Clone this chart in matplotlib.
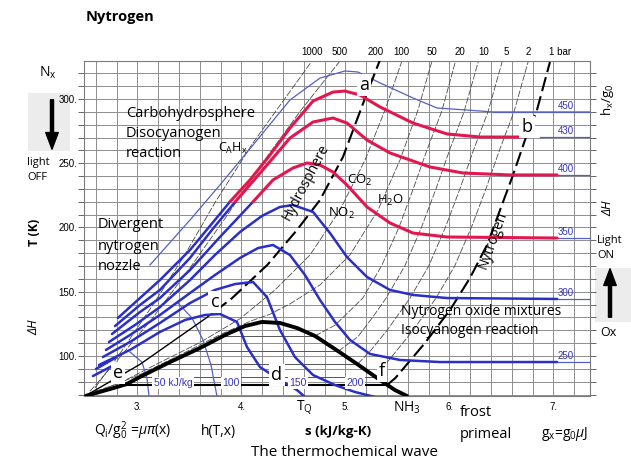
import matplotlib.pyplot as plt
from matplotlib.patches import FancyArrowPatch, Rectangle
from matplotlib.ticker import MultipleLocator

plt.rcParams["font.family"] = ["Open Sans", "DejaVu Sans"]
plt.rcParams["mathtext.fontset"] = "custom"
plt.rcParams["mathtext.rm"] = "Open Sans"
plt.rcParams["mathtext.it"] = "Open Sans:italic"
plt.rcParams["mathtext.bf"] = "Open Sans:bold"

RED = "#e3174f"
BLUE = "#2a2fc8"
THIN_BLUE = "#5560c4"
LABEL_BLUE = "#3535b5"
GRID = "#8e8e8e"

# saturation dome
dome_s = [2.505, 2.736, 2.899, 3.024, 3.313, 3.601, 3.841, 4.034, 4.197, 4.370, 4.534, 4.707, 4.899, 5.111, 5.332, 5.476, 5.591]
dome_t = [69.0, 74.3, 78.2, 83.7, 95.3, 106.2, 116.3, 123.3, 126.5, 125.7, 121.8, 115.6, 105.4, 93.8, 81.3, 73.5, 68.9]

# two-phase plateaus of the 1, 2, 5, 10, 20 bar isobars
sat_t = [77.4, 83.6, 94.0, 103.7, 115.6]
sat_s_liq = [2.87, 3.02, 3.28, 3.54, 3.83]
sat_s_vap = [5.40, 5.30, 5.12, 4.93, 4.707]

# isobars (bar)
bar1_s = [5.40, 5.48, 5.764, 6.005, 6.197, 6.361, 6.486, 6.611, 6.726, 6.841, 6.966]
bar1_t = [77.4, 82.9, 110.1, 135.8, 160.7, 186.4, 213.6, 240.9, 268.1, 291.4, 328.8]
bar2_s = [5.30, 5.40, 5.65, 5.87, 6.05, 6.21, 6.35, 6.48, 6.62, 6.76]
bar2_t = [83.6, 95, 120, 145, 170, 200, 230, 260, 290, 330]
bar5_s = [5.12, 5.25, 5.40, 5.62, 5.80, 5.96, 6.10, 6.23, 6.37, 6.51]
bar5_t = [94, 105, 120, 145, 170, 200, 230, 260, 290, 330]
bar10_s = [4.93, 5.12, 5.26, 5.39, 5.57, 5.73, 5.87, 6.00, 6.14, 6.28]
bar10_t = [103.7, 115, 130, 145, 170, 200, 230, 260, 290, 330]
bar20_s = [4.707, 4.90, 5.04, 5.166, 5.346, 5.514, 5.651, 5.782, 5.924, 6.06]
bar20_t = [115.6, 124, 135, 145, 170, 200, 230, 260, 290, 330]
bar50_s = [2.64, 3.024, 3.409, 3.793, 4.082, 4.274, 4.466, 4.755, 5.043, 5.313, 5.524, 5.697, 5.832]
bar50_t = [73.0, 85.5, 100.8, 116.5, 127.0, 132.5, 140.5, 155.3, 178.6, 213.6, 252.5, 291.4, 329.6]
bar100_s = [2.52, 2.832, 3.18, 3.601, 3.986, 4.322, 4.659, 4.947, 5.188, 5.380, 5.543]
bar100_t = [70.5, 79.0, 93.5, 110.5, 129.0, 151.4, 178.6, 213.6, 252.5, 291.4, 329.6]
bar200_liq_s = [2.543, 3.024, 3.668, 3.745]
bar200_liq_t = [71.0, 93.5, 130.0, 134.8]
bar200_s = [3.745, 3.909, 4.25, 4.534, 4.755, 4.976, 5.207, 5.332]
bar200_t = [134.8, 145.0, 171.0, 198.1, 221.4, 254.9, 304.7, 330.4]
bar500_s = [2.543, 2.80, 3.15, 3.50, 3.85, 4.20, 4.56, 4.947]
bar500_t = [72.5, 96.0, 130.0, 168.0, 208.0, 250.0, 290.0, 329.6]
bar1000_s = [2.59, 2.85, 3.15, 3.45, 3.75, 4.11, 4.678]
bar1000_t = [75.0, 104.0, 140.0, 178.0, 220.0, 265.8, 329.6]

pressure_labels = ["1000", "500", "200", "100", "50", "20", "10", "5", "2", "1 bar"]
pressure_label_s = [4.68, 4.94, 5.29, 5.54, 5.83, 6.10, 6.33, 6.55, 6.76, 7.06]

# isenthalps, kJ/kg (blue rise through the liquid bundle, red above 220 K)
h430_rise_s = [2.812, 3.024, 3.216, 3.505, 3.697, 3.889]
h430_rise_t = [129.6, 145.1, 159.1, 182.5, 201.2, 220.0]
h430_s = [3.889, 4.082, 4.274, 4.466, 4.688, 4.880, 4.995, 5.139, 5.332, 5.649, 5.976, 6.293, 6.678]
h430_t = [220.0, 237.0, 256.4, 277.4, 298.4, 305.4, 306.2, 303.1, 293.8, 281.3, 272.8, 270.4, 270.4]

h400_rise_s = [2.784, 3.024, 3.216, 3.505, 3.716, 3.94]
h400_rise_t = [123.3, 139.7, 151.4, 176.3, 198.1, 220.0]
h400_s = [3.94, 4.245, 4.466, 4.688, 4.880, 5.014, 5.207, 5.428, 5.812, 6.130, 6.582, 7.034]
h400_t = [220.0, 248.6, 269.6, 282.1, 285.2, 281.3, 268.1, 258.0, 247.1, 242.4, 240.9, 240.9]

h350_rise_s = [2.755, 3.024, 3.216, 3.505, 3.793, 4.111]
h350_rise_t = [117.1, 134.2, 145.1, 166.9, 192.6, 220.0]
h350_s = [4.111, 4.303, 4.495, 4.630, 4.755, 4.880, 5.014, 5.207, 5.428, 5.649, 5.976, 7.034]
h350_t = [220.0, 237.0, 246.3, 250.2, 248.6, 243.2, 233.1, 216.0, 203.5, 195.7, 192.6, 191.8]

h300_s = [2.726, 2.976, 3.216, 3.505, 3.745, 3.986, 4.197, 4.370, 4.495, 4.688, 4.851, 5.014, 5.207, 5.428, 5.649, 5.976, 7.034]
h300_t = [110.9, 124.1, 138.1, 159.1, 178.6, 196.5, 209.0, 216.0, 217.5, 212.1, 195.7, 177.0, 161.5, 151.4, 147.5, 145.1, 144.4]

h250_s = [2.697, 2.928, 3.216, 3.505, 3.745, 3.986, 4.159, 4.303, 4.466, 4.611, 4.755, 4.899, 5.043, 5.236, 5.524, 5.909, 7.034]
h250_t = [104.7, 116.3, 131.9, 149.0, 163.0, 176.3, 184.0, 186.4, 178.6, 163.0, 143.6, 126.5, 112.5, 101.6, 96.9, 95.3, 95.3]

h200_s = [2.668, 2.928, 3.216, 3.505, 3.745, 3.938, 4.111, 4.245, 4.370, 4.514, 4.688, 4.899, 5.091, 5.284]
h200_t = [99.2, 110.9, 125.7, 141.2, 151.4, 156.0, 157.6, 145.9, 120.2, 99.2, 85.2, 77.4, 72.0, 68.1]

h150_s = [2.630, 2.928, 3.216, 3.457, 3.649, 3.793, 3.957, 4.053, 4.178, 4.370, 4.534, 4.611]
h150_t = [93.0, 104.7, 118.7, 128.0, 131.9, 132.7, 126.5, 107.0, 91.4, 81.3, 73.5, 68.1]

# short liquid-side stubs next to the "e" corner
stub1_s = [2.601, 2.784]
stub1_t = [89.9, 98.4]
stub2_s = [2.572, 2.755]
stub2_t = [84.4, 92.2]

h450_s = [3.120, 3.505, 3.793, 4.111, 4.466, 4.755, 4.995, 5.120, 5.332, 5.649, 5.880, 6.168, 6.418, 7.351]
h450_t = [170.8, 205.8, 233.1, 264.2, 299.2, 316.3, 321.8, 321.0, 312.5, 300.8, 293.0, 291.4, 289.9, 289.9]

h100_s = [3.39, 3.524, 3.630, 3.707, 3.764]
h100_t = [141.2, 129.6, 112.5, 93.0, 68.9]
h50_s = [2.93, 3.043, 3.091, 3.111]
h50_t = [103.0, 95.3, 82.9, 68.9]

# right-hand enthalpy scale
h_levels = [450, 430, 400, 350, 300, 250]
h_level_t = [289.9, 270.4, 240.9, 191.8, 144.4, 95.3]
h_level_start = [6.418, 6.87, 7.034, 7.034, 7.034, 7.034]

W, H = 631, 463


def fpos(x, y):
    return x / W, 1 - y / H


fig = plt.figure(figsize=(W / 100, H / 100), dpi=100)
ax = fig.add_axes([84 / W, 67 / H, 506 / W, 335 / H])
ax.set_xlim(2.486, 7.351)
ax.set_ylim(68.87, 329.57)

ax.xaxis.set_minor_locator(MultipleLocator(0.2))
ax.yaxis.set_minor_locator(MultipleLocator(10))
ax.set_xticks([3, 4, 5, 6, 7], ["3.", "4.", "5.", "6.", "7."], fontsize=7, fontfamily="Liberation Sans")
ax.set_yticks([100, 150, 200, 250, 300], ["100.", "150.", "200.", "250.", "300."], fontsize=7,
              fontfamily="Liberation Sans")
ax.grid(which="both", color=GRID, lw=0.7)
ax.set_axisbelow(True)
ax.tick_params(axis="y", which="both", direction="out", length=4, width=0.7, color="#666666",
               left=True, right=True, pad=1)
ax.tick_params(axis="x", which="both", length=0, pad=4)
for sp in ax.spines.values():
    sp.set_color("#7a7a7a")
    sp.set_linewidth(0.8)

# isobars
dash = (0, (8, 2))
for s, t in [(bar2_s, bar2_t), (bar5_s, bar5_t), (bar10_s, bar10_t), (bar20_s, bar20_t),
             (bar50_s, bar50_t), (bar100_s, bar100_t), (bar500_s, bar500_t), (bar1000_s, bar1000_t)]:
    ax.plot(s, t, color="#4a4a4a", lw=0.6, ls=dash, zorder=2)
for t, sl, sv in zip(sat_t[1:], sat_s_liq[1:], sat_s_vap[1:]):
    ax.plot([sl, sv], [t, t], color="#555555", lw=0.7, zorder=2)
ax.plot([sat_s_liq[0], sat_s_vap[0]], [sat_t[0], sat_t[0]], color="black", lw=1.5, zorder=4)
ax.plot(bar1_s, bar1_t, color="black", lw=1.5, ls=(0, (7, 2.5)), zorder=4)
ax.plot(bar200_liq_s, bar200_liq_t, color="black", lw=1.0, zorder=4)
ax.plot(bar200_s, bar200_t, color="black", lw=1.5, ls=(0, (7, 2.5)), zorder=4)

for i, lbl in enumerate(pressure_labels):
    ax.text(pressure_label_s[i], 1.027, lbl, transform=ax.get_xaxis_transform(), ha="center",
            va="center", fontsize=7, fontfamily="Liberation Sans")

# isenthalps
ax.plot(h450_s, h450_t, color=THIN_BLUE, lw=0.9, zorder=3)
ax.plot(h100_s, h100_t, color=THIN_BLUE, lw=0.9, zorder=3)
ax.plot(h50_s, h50_t, color=THIN_BLUE, lw=0.9, zorder=3)
for s, t in [(h430_rise_s, h430_rise_t), (h400_rise_s, h400_rise_t), (h350_rise_s, h350_rise_t),
             (h300_s, h300_t), (h250_s, h250_t), (h200_s, h200_t), (h150_s, h150_t),
             (stub1_s, stub1_t), (stub2_s, stub2_t)]:
    ax.plot(s, t, color=BLUE, lw=1.8, zorder=5, solid_capstyle="round")
for s, t in [(h430_s, h430_t), (h400_s, h400_t), (h350_s, h350_t)]:
    ax.plot(s, t, color=RED, lw=2.2, zorder=5, solid_capstyle="round")

for h, t, s0 in zip(h_levels, h_level_t, h_level_start):
    ax.plot([s0, 7.351], [t, t], color=THIN_BLUE, lw=0.9, zorder=3)
    ax.text(7.12, t + 4.5, str(h), color=LABEL_BLUE, fontsize=7, ha="center", va="center",
            fontfamily="Liberation Sans", zorder=6)

ax.plot(dome_s, dome_t, color="black", lw=2.8, zorder=6, solid_capstyle="round")

# text on the chart
ax.text(2.889, 289.1, "Carbohydrosphere", fontsize=10.5, va="center", zorder=7)
ax.text(2.889, 273.5, "Disocyanogen", fontsize=10.5, va="center", zorder=7)
ax.text(2.889, 257.2, "reaction", fontsize=10.5, va="center", zorder=7)
ax.text(3.774, 261.9, r"C$_{\mathrm{A}}$H$_{\mathrm{x}}$", fontsize=9, va="center", zorder=7)
ax.text(2.620, 202.7, "Divergent", fontsize=10.5, va="center", zorder=7)
ax.text(2.620, 185.6, "nytrogen", fontsize=10.5, va="center", zorder=7)
ax.text(2.620, 169.3, "nozzle", fontsize=10.5, va="center", zorder=7)
ax.text(4.620, 235.4, "Hydrosphere", fontsize=10, rotation=62, ha="center", va="center", zorder=7)
ax.text(5.014, 237.0, r"CO$_{\mathrm{2}}$", fontsize=9.5, va="center", zorder=7)
ax.text(5.303, 221.4, r"H$_{\mathrm{2}}$O", fontsize=9.5, va="center", zorder=7)
ax.text(4.832, 211.3, r"NO$_{\mathrm{2}}$", fontsize=9.5, va="center", zorder=7)
ax.text(6.418, 190.3, "Nytrogen", fontsize=10, rotation=70, ha="center", va="center", zorder=7)
ax.text(5.534, 135.0, "Nytrogen oxide mixtures", fontsize=10, va="center", zorder=7)
ax.text(5.534, 120.2, "Isocyanogen reaction", fontsize=10, va="center", zorder=7)

box = dict(boxstyle="square,pad=0.12", fc="white", ec="none")
for s, t, ch in [(5.178, 310.9, "a"), (6.745, 278.2, "b"), (3.745, 142.0, "c"),
                 (4.341, 85.2, "d"), (2.812, 86.8, "e"), (5.351, 88.3, "f")]:
    ax.text(s, t, ch, fontsize=13, ha="center", va="center", bbox=box, zorder=8)
for s, lbl in [(3.341, "50 kJ/kg"), (3.899, "100"), (4.543, "150"), (5.091, "200")]:
    ax.text(s, 79.0, lbl, fontsize=7.5, color=LABEL_BLUE, ha="center", va="center",
            fontfamily="Liberation Sans", bbox=box, zorder=8)

# text around the frame
fig.text(*fpos(86, 17), "Nytrogen", fontsize=10.5, fontweight="bold", va="center")
fig.text(*fpos(48, 73), r"N$_{\mathrm{x}}$", fontsize=10, ha="center", va="center")
fig.text(*fpos(27, 163), "light", fontsize=8, va="center")
fig.text(*fpos(27, 178), "OFF", fontsize=8, va="center")
fig.text(*fpos(34, 232), "T (K)", fontsize=9, fontweight="bold", rotation=90, ha="center", va="center")
fig.text(*fpos(34, 327), "ΔH", fontsize=9, style="italic", rotation=90, ha="center", va="center")
fig.text(*fpos(608, 100), r"h$_{\mathrm{x}}$/g$_{\mathrm{0}}$", fontsize=9.5, rotation=90, ha="center", va="center")
fig.text(*fpos(608, 208), "ΔH", fontsize=9, style="italic", rotation=90, ha="center", va="center")
fig.text(*fpos(597, 240), "Light", fontsize=8, va="center")
fig.text(*fpos(597, 256), "ON", fontsize=8, va="center")
fig.text(*fpos(600, 333), "Ox", fontsize=9, va="center")

fig.text(*fpos(304, 408), r"T$_{\mathrm{Q}}$", fontsize=10, ha="center", va="center")
fig.text(*fpos(407, 408), r"NH$_{\mathrm{3}}$", fontsize=10, ha="center", va="center")
fig.text(*fpos(460, 413), "frost", fontsize=10.5, va="center")
fig.text(*fpos(460, 435), "primeal", fontsize=10.5, va="center")
fig.text(*fpos(94, 431), r"Q$_{\mathrm{i}}$/g$_{\mathrm{0}}^{\mathrm{2}}$ =$\mu\pi$(x)", fontsize=10, va="center")
fig.text(*fpos(201, 432), "h(T,x)", fontsize=10, va="center")
fig.text(*fpos(338, 432), "s (kJ/kg-K)", fontsize=9.5, fontweight="bold", ha="center", va="center")
fig.text(*fpos(344, 452), "The thermochemical wave", fontsize=11, ha="center", va="center")
fig.text(*fpos(541, 434), r"g$_{\mathrm{x}}$=g$_{\mathrm{0}}$$\mu$J", fontsize=10, va="center")

# light off / light on arrows
for x0, y0, w, h in [(28, 93, 42, 58), (595, 268, 36, 54)]:
    fig.add_artist(Rectangle(fpos(x0, y0 + h), w / W, h / H, transform=fig.transFigure,
                             fc="#ececec", ec="none", zorder=0))
fig.add_artist(FancyArrowPatch(fpos(52, 97), fpos(52, 152), transform=fig.transFigure,
                               arrowstyle="simple,head_length=1.2,head_width=0.9,tail_width=0.22",
                               mutation_scale=10, color="black"))
fig.add_artist(FancyArrowPatch(fpos(610, 320), fpos(610, 266), transform=fig.transFigure,
                               arrowstyle="simple,head_length=1.2,head_width=0.9,tail_width=0.22",
                               mutation_scale=10, color="black"))

fig.savefig("out.png", dpi=100)
